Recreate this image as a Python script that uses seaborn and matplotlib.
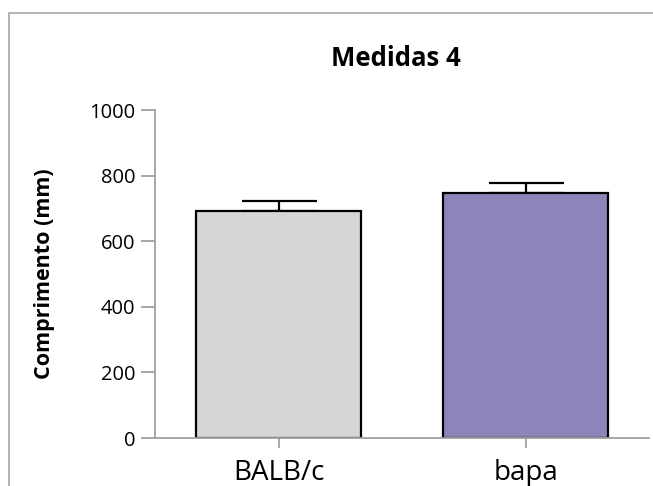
import matplotlib
matplotlib.use("Agg")
import matplotlib.pyplot as plt
import seaborn as sns
import pandas as pd
from matplotlib.patches import Rectangle

groups = ["BALB/c", "bapa"]
means = [692, 747]
errors = [31, 30]
colors = ["#d6d6d6", "#8b85b9"]
yticks = [0, 200, 400, 600, 800, 1000]
title = "Medidas 4"
ylabel = "Comprimento (mm)"

sns.set_style("white")
plt.rcParams["font.family"] = ["Open Sans", "DejaVu Sans"]
plt.rcParams["text.color"] = "black"
plt.rcParams["xtick.labelcolor"] = "black"
plt.rcParams["ytick.labelcolor"] = "black"

df = pd.DataFrame({"group": groups, "value": means})

fig = plt.figure(figsize=(6.53, 4.86), dpi=100)
ax = fig.add_axes([155 / 653, 1 - 438 / 486, (649 - 155) / 653, (438 - 110) / 486])

sns.barplot(data=df, x="group", y="value", hue="group", palette=colors,
            order=groups, hue_order=groups, errorbar=None, width=0.67,
            saturation=1, edgecolor="black", linewidth=1.6, legend=False,
            ax=ax, zorder=2)

xs = list(range(len(groups)))
ax.errorbar(xs, means, yerr=[[0] * len(errors), errors], fmt="none",
            ecolor="black", elinewidth=1.6, capsize=27, capthick=1.6, zorder=1)

ax.set_xlim(-0.5, 1.5)
ax.set_ylim(0, 1000)
ax.set_yticks(yticks)
ax.set_yticklabels([str(t) for t in yticks], fontsize=14.5)
ax.set_xticks(xs)
ax.set_xticklabels(groups, fontsize=20)

for s in ["top", "right"]:
    ax.spines[s].set_visible(False)
for s in ["left", "bottom"]:
    ax.spines[s].set_color("#a0a0a0")
    ax.spines[s].set_linewidth(1.3)
ax.spines["bottom"].set_zorder(3)

ax.tick_params(axis="y", length=10, width=1.3, color="#a0a0a0", pad=4, left=True)
ax.tick_params(axis="x", length=7, width=1.3, color="#a0a0a0", pad=8, bottom=True)

ax.set_xlabel("")
ax.set_ylabel(ylabel, fontsize=15.5, fontweight="bold", color="black")
ax.yaxis.set_label_coords((45 - 155) / (649 - 155), 0.5)
ax.yaxis.label.set_verticalalignment("center")
fig.text(396 / 653, 1 - 66 / 486, title, fontsize=18.5, fontweight="bold",
         ha="center", va="baseline", color="black")

fig.patches.append(Rectangle((9 / 653, -0.5), 2, 0.5 + 1 - 13 / 486,
                             transform=fig.transFigure, fill=False,
                             edgecolor="#a8a8a8", linewidth=1.2))

fig.savefig("out.png", dpi=100)
